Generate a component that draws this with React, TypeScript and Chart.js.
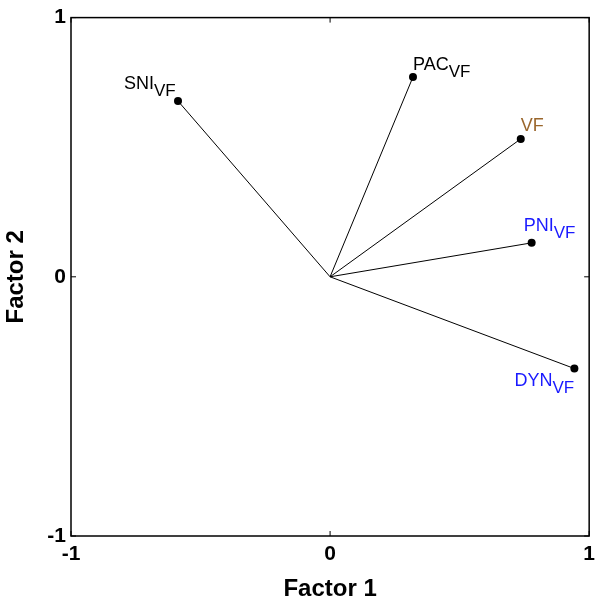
import React, { useEffect, useRef } from "react";
import { Chart, registerables } from "chart.js";

Chart.register(...registerables);

// ---- data ----
const variableNames = ["SNI", "PAC", "VF", "PNI", "DYN"];
const variableSubscripts = ["VF", "VF", "", "VF", "VF"];
const factor1Loadings = [-0.587, 0.32, 0.736, 0.778, 0.943];
const factor2Loadings = [0.678, 0.771, 0.532, 0.131, -0.354];
const tickValues = [-1, 0, 1];

// ---- styles ----
const labelColors = ["#000000", "#000000", "#9a662c", "#1a1aff", "#1a1aff"];
const labelOffsets: [number, number][] = [
  [-54, -12],
  [0, -7],
  [0, -8],
  [-8, -12],
  [-60, 17],
];
const FONT = "'Liberation Sans', Arial, Helvetica, sans-serif";

const decorPlugin = {
  id: "decor",
  afterDatasetsDraw(chart: any) {
    const { ctx, chartArea, scales } = chart;
    const { left, right, top, bottom } = chartArea;
    ctx.save();
    // box
    ctx.strokeStyle = "#000";
    ctx.lineWidth = 1.5;
    ctx.strokeRect(left, top, right - left, bottom - top);
    // inward ticks on all four sides
    ctx.lineWidth = 1;
    const tl = 5;
    tickValues.forEach((v) => {
      const px = scales.x.getPixelForValue(v);
      const py = scales.y.getPixelForValue(v);
      ctx.beginPath();
      ctx.moveTo(px, bottom);
      ctx.lineTo(px, bottom - tl);
      ctx.moveTo(px, top);
      ctx.lineTo(px, top + tl);
      ctx.moveTo(left, py);
      ctx.lineTo(left + tl, py);
      ctx.moveTo(right, py);
      ctx.lineTo(right - tl, py);
      ctx.stroke();
    });
    // point labels
    ctx.textBaseline = "alphabetic";
    ctx.textAlign = "left";
    variableNames.forEach((name, i) => {
      const px = scales.x.getPixelForValue(factor1Loadings[i]);
      const py = scales.y.getPixelForValue(factor2Loadings[i]);
      const [dx, dy] = labelOffsets[i];
      const x = px + dx;
      const y = py + dy;
      ctx.fillStyle = labelColors[i];
      ctx.font = `18px ${FONT}`;
      ctx.fillText(name, x, y);
      const w = ctx.measureText(name).width;
      if (variableSubscripts[i]) {
        ctx.font = `17px ${FONT}`;
        ctx.fillText(variableSubscripts[i], x + w, y + 7);
      }
    });
    ctx.restore();
  },
};

export default function App() {
  const canvasRef = useRef<HTMLCanvasElement | null>(null);

  useEffect(() => {
    document.body.style.margin = "0";
    const canvas = canvasRef.current;
    if (!canvas) return;

    const datasets = variableNames.map((name, i) => ({
      label: name,
      data: [
        { x: 0, y: 0 },
        { x: factor1Loadings[i], y: factor2Loadings[i] },
      ],
      showLine: true,
      borderColor: "#000000",
      borderWidth: 1,
      pointRadius: [0, 4],
      pointBackgroundColor: "#000000",
      pointBorderColor: "#000000",
      pointBorderWidth: 0,
    }));

    const chart = new Chart(canvas, {
      type: "scatter",
      data: { datasets },
      plugins: [decorPlugin],
      options: {
        animation: false,
        responsive: false,
        maintainAspectRatio: false,
        layout: { padding: { left: 0, top: 17, right: 10, bottom: 0 } },
        plugins: {
          legend: { display: false },
          tooltip: { enabled: false },
        },
        scales: {
          x: {
            type: "linear",
            min: -1,
            max: 1,
            afterBuildTicks: (scale: any) => {
              scale.ticks = tickValues.map((v) => ({ value: v }));
            },
            afterFit: (scale: any) => {
              scale.height = 71;
            },
            grid: { display: false, drawTicks: false },
            border: { display: false },
            ticks: {
              color: "#000",
              padding: 6,
              maxRotation: 0,
              font: { family: FONT, size: 21, weight: "bold" },
              callback: (v: any) => String(v),
            },
            title: {
              display: true,
              text: "Factor 1",
              color: "#000",
              font: { family: FONT, size: 24, weight: "bold" },
              padding: { top: 0, bottom: 3 },
            },
          },
          y: {
            type: "linear",
            min: -1,
            max: 1,
            afterBuildTicks: (scale: any) => {
              scale.ticks = tickValues.map((v) => ({ value: v }));
            },
            afterFit: (scale: any) => {
              scale.width = 71;
            },
            grid: { display: false, drawTicks: false },
            border: { display: false },
            ticks: {
              color: "#000",
              padding: 5,
              font: { family: FONT, size: 21, weight: "bold" },
              callback: (v: any) => String(v),
            },
            title: {
              display: true,
              text: "Factor 2",
              color: "#000",
              font: { family: FONT, size: 24, weight: "bold" },
              padding: { top: 2, bottom: 0 },
            },
          },
        },
      } as any,
    });

    return () => chart.destroy();
  }, []);

  return (
    <div style={{ width: 601, height: 607, background: "#fff" }}>
      <canvas ref={canvasRef} width={601} height={607} style={{ display: "block" }} />
    </div>
  );
}
